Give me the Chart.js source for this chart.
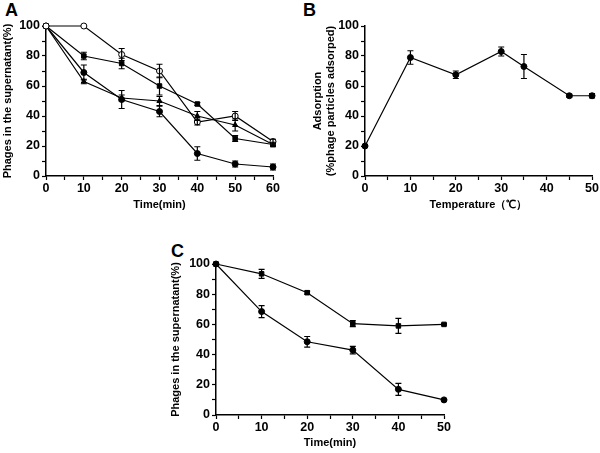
<!DOCTYPE html>
<html>
<head>
<meta charset="utf-8">
<script src="https://cdn.jsdelivr.net/npm/chart.js@4"></script>
<style>
  body { margin: 0; background: #fff; }
  #wrap { position: relative; width: 600px; height: 453px; overflow: hidden; }
  canvas { position: absolute; }
  .lbl { position: absolute; font: bold 18px "Liberation Sans", Arial, sans-serif; color: #000; }
</style>
</head>
<body>
<div id="wrap">
  <div class="lbl" style="left:5px;top:0px">A</div>
  <div class="lbl" style="left:303px;top:0px">B</div>
  <div class="lbl" style="left:171px;top:241px">C</div>
  <div style="position:absolute;left:0;top:0;width:300px;height:215px"><canvas id="chartA"></canvas></div>
  <div style="position:absolute;left:300px;top:0;width:300px;height:215px"><canvas id="chartB"></canvas></div>
  <div style="position:absolute;left:150px;top:220px;width:310px;height:233px"><canvas id="chartC"></canvas></div>
</div>
<script>
// Panel A: phages left in supernatant over time, four series
const timeA = [0, 10, 20, 30, 40, 50, 60];
const openCircleA = [100, 100, 81, 70, 36, 40, 23];
const openCircleErrA = [0, 0, 4, 4.5, 2, 3, 1.5];
const squareA = [100, 80, 75, 60, 48, 25, 21];
const squareErrA = [0, 2.5, 3.5, 6, 1, 2, 1.5];
const triangleA = [100, 63, 52, 50, 40, 34, 21];
const triangleErrA = [0, 1.5, 2, 3, 3, 4, 1];
const dotA = [100, 69, 51, 43, 15, 8, 6];
const dotErrA = [0, 5, 6, 3.5, 4.5, 2, 2];

// Panel B: adsorption vs temperature
const tempB = [0, 10, 20, 30, 35, 45, 50];
const adsorbB = [20, 79, 67.5, 83, 73, 53.5, 53.5];
const adsorbErrB = [0, 4.5, 2.5, 3, 8, 1, 1.5];

// Panel C: two series over time
const timeC = [0, 10, 20, 30, 40, 50];
const squareC = [100, 93.5, 81, 60.5, 59, 60];
const squareErrC = [0, 3, 1, 2, 5, 0.5];
const dotC = [100, 68.5, 48.5, 43, 17, 10];
const dotErrC = [0, 4, 3.5, 2.5, 4, 0];

const FONT = '"Liberation Sans", Arial, sans-serif';

const errorBars = {
    id: 'errorBars',
    afterDatasetsDraw(chart) {
        const ctx = chart.ctx;
        const xs = chart.scales.x, ys = chart.scales.y;
        ctx.save();
        ctx.strokeStyle = '#000';
        ctx.lineWidth = 1.2;
        chart.data.datasets.forEach(ds => {
            if (!ds.errors) return;
            ds.data.forEach((p, i) => {
                const e = ds.errors[i];
                if (!e) return;
                const px = xs.getPixelForValue(p.x);
                const top = ys.getPixelForValue(p.y + e);
                const bot = ys.getPixelForValue(p.y - e);
                ctx.beginPath();
                ctx.moveTo(px, top); ctx.lineTo(px, bot);
                ctx.moveTo(px - 3, top); ctx.lineTo(px + 3, top);
                ctx.moveTo(px - 3, bot); ctx.lineTo(px + 3, bot);
                ctx.stroke();
            });
        });
        ctx.restore();
    }
};

function series(xs, ys, errs, style, fill) {
    return {
        data: xs.map((x, i) => ({ x: x, y: ys[i] })),
        errors: errs,
        borderColor: '#000',
        borderWidth: 1.2,
        pointStyle: style,
        pointRadius: style === 'rect' ? 3.2 : 3,
        pointBackgroundColor: fill,
        pointBorderColor: '#000',
        pointBorderWidth: 1,
        tension: 0,
        clip: false
    };
}

function makeChart(id, datasets, o) {
    const tickFont = { family: FONT, size: 12.5, weight: 'bold' };
    const titleFont = { family: FONT, size: 11, weight: 'bold' };
    return new Chart(document.getElementById(id), {
        type: 'line',
        data: { datasets: datasets },
        options: {
            responsive: true,
            maintainAspectRatio: false,
            animation: false,
            layout: { padding: o.padding },
            plugins: { legend: { display: false }, tooltip: { enabled: false } },
            scales: {
                x: {
                    type: 'linear',
                    min: 0, max: o.xmax,
                    grid: { drawOnChartArea: false, color: '#000', tickLength: 4, tickWidth: 1.2 },
                    border: { color: '#000', width: 1.5 },
                    ticks: {
                        stepSize: 5, autoSkip: false, maxRotation: 0, color: '#000', font: tickFont, padding: 1,
                        callback: v => (v % 10 === 0 ? v : '')
                    },
                    title: { display: true, text: o.xTitle, color: '#000', font: titleFont, padding: { top: 2, bottom: o.xTitlePad } },
                    afterFit: s => { s.height = o.xHeight; }
                },
                y: {
                    min: 0, max: 100,
                    grid: { drawOnChartArea: false, color: '#000', tickLength: 4, tickWidth: 1.2 },
                    border: { color: '#000', width: 1.5 },
                    ticks: {
                        stepSize: 10, autoSkip: false, color: '#000', font: tickFont, padding: 2,
                        callback: v => (v % 20 === 0 ? v : '')
                    },
                    title: { display: true, text: o.yTitle, color: '#000', font: titleFont, padding: { top: o.yTitlePad, bottom: 0 } },
                    afterFit: s => { s.width = o.yWidth; }
                }
            }
        },
        plugins: [errorBars]
    });
}

makeChart('chartA', [
    series(timeA, openCircleA, openCircleErrA, 'circle', '#fff'),
    series(timeA, squareA, squareErrA, 'rect', '#000'),
    series(timeA, triangleA, triangleErrA, 'triangle', '#000'),
    series(timeA, dotA, dotErrA, 'circle', '#000')
], {
    padding: { left: 0, right: 27, top: 26, bottom: 0 },
    xmax: 60, xTitle: 'Time(min)', xTitlePad: 3, xHeight: 39,
    yTitle: 'Phages in the supernatant(%)', yTitlePad: 1, yWidth: 46
});

makeChart('chartB', [
    series(tempB, adsorbB, adsorbErrB, 'circle', '#000')
], {
    padding: { left: 10, right: 7, top: 26, bottom: 0 },
    xmax: 50, xTitle: 'Temperature（℃）', xTitlePad: 3, xHeight: 39,
    yTitle: ['Adsorption', '(%phage particles adsorped)'], yTitlePad: 1, yWidth: 55
});

makeChart('chartC', [
    series(timeC, squareC, squareErrC, 'rect', '#000'),
    series(timeC, dotC, dotErrC, 'circle', '#000')
], {
    padding: { left: 18, right: 16, top: 44, bottom: 0 },
    xmax: 50, xTitle: 'Time(min)', xTitlePad: 3, xHeight: 38,
    yTitle: 'Phages in the supernatant(%)', yTitlePad: 1, yWidth: 48
});
</script>
</body>
</html>
